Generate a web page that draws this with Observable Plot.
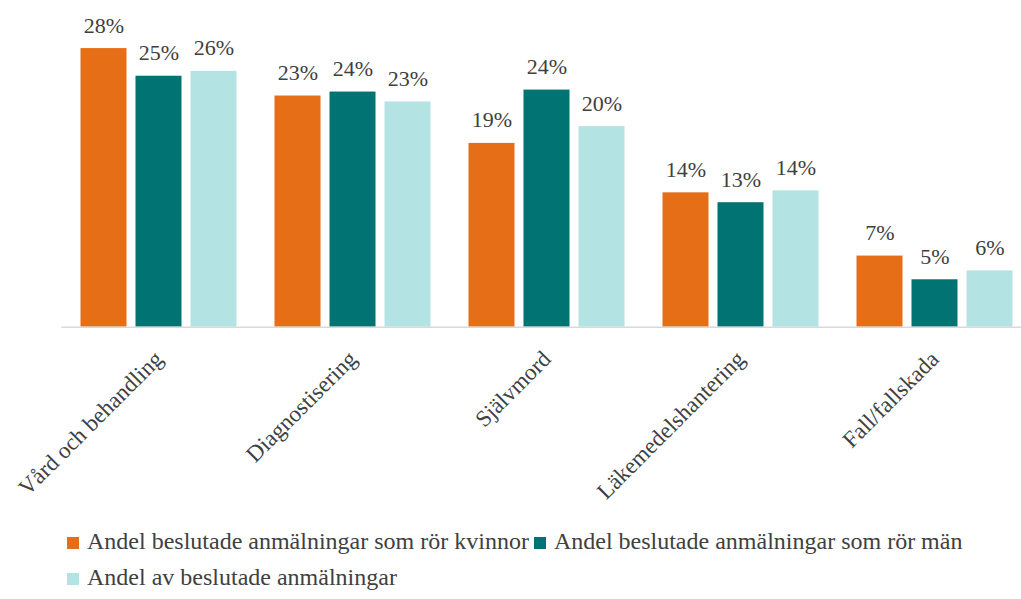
<!DOCTYPE html>
<html>
<head>
<meta charset="utf-8">
<script src="https://cdn.jsdelivr.net/npm/d3@7"></script>
<script src="https://cdn.jsdelivr.net/npm/@observablehq/plot@0.6"></script>
<style>
  html, body { margin: 0; padding: 0; background: #fff; overflow: hidden; }
  body { width: 1021px; height: 599px; font-family: 'Liberation Serif', 'Times New Roman', serif; color: #404040; }
  #legend { margin-left: 67px; width: 900px; display: flex; flex-wrap: wrap; column-gap: 5px; padding-top: 8px; font-size: 24px; line-height: 36px; font-family: 'Liberation Serif', 'Times New Roman', serif; }
  .item { display: flex; align-items: center; white-space: nowrap; }
  .sw { width: 12px; height: 12px; margin-right: 8px; margin-top: 3px; display: inline-block; }
</style>
</head>
<body>
<div id="chart"></div>
<div id="legend"></div>
<script>
const categories = ["Vård och behandling", "Diagnostisering", "Självmord", "Läkemedelshantering", "Fall/fallskada"];
const seriesNames = [
  "Andel beslutade anmälningar som rör kvinnor",
  "Andel beslutade anmälningar som rör män",
  "Andel av beslutade anmälningar"
];
const colors = ["#E56E17", "#007372", "#B3E4E3"];
const women = [28.2, 23.4, 18.6, 13.6, 7.2];
const men   = [25.4, 23.8, 24.0, 12.6, 4.8];
const total = [25.9, 22.8, 20.3, 13.8, 5.7];

const seriesValues = [women, men, total];
const data = [];
categories.forEach((c, i) => {
  seriesNames.forEach((s, j) => data.push({cat: c, series: s, value: seriesValues[j][i]}));
});

const serif = "'Liberation Serif', 'Times New Roman', serif";
const chart = Plot.plot({
  width: 1021,
  height: 515,
  marginLeft: 59.5,
  marginRight: -11.5,
  marginTop: 30.3,
  marginBottom: 188.3,
  style: {fontFamily: serif, color: "#404040", background: "#fff"},
  fx: {domain: categories, paddingInner: 0.192, paddingOuter: 0.096, label: null},
  x: {domain: seriesNames, paddingInner: 0.17, paddingOuter: 0, axis: null},
  y: {domain: [0, 30], axis: null},
  color: {domain: seriesNames, range: colors},
  marks: [
    Plot.barY(data, {fx: "cat", x: "series", y: "value", fill: "series"}),
    Plot.ruleY([0], {stroke: "#D9D9D9", strokeWidth: 1.5, insetLeft: -18.6, insetRight: -18.6}),
    Plot.text(data, {fx: "cat", x: "series", y: "value", text: d => Math.round(d.value) + "%", lineAnchor: "bottom", dy: -16, fontSize: 22, fontFamily: serif, fill: "#404040"}),
    Plot.axisFx({anchor: "bottom", tickRotate: -45, tickSize: 0, tickPadding: 28, fontSize: 23, fontFamily: serif, label: null, fill: "#404040"})
  ]
});
chart.setAttribute("font-family", serif);
document.getElementById("chart").appendChild(chart);

const legend = document.getElementById("legend");
seriesNames.forEach((s, j) => {
  const it = document.createElement("div");
  it.className = "item";
  const sw = document.createElement("span");
  sw.className = "sw";
  sw.style.background = colors[j];
  it.appendChild(sw);
  it.appendChild(document.createTextNode(s));
  legend.appendChild(it);
});
</script>
</body>
</html>
